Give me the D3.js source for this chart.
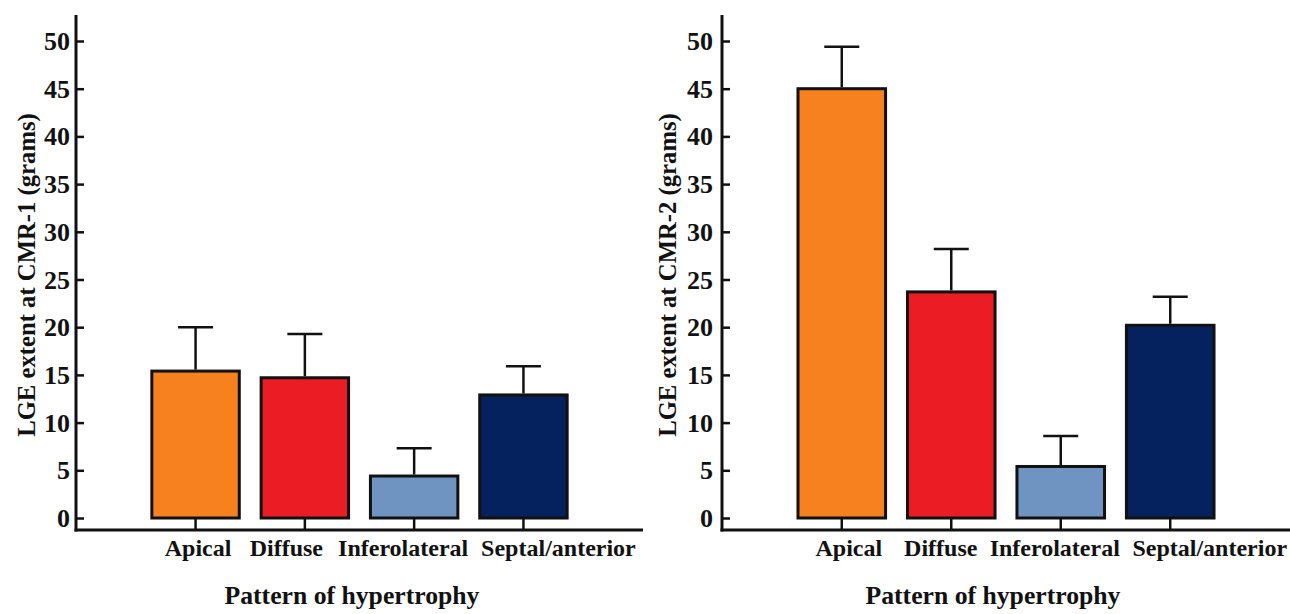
<!DOCTYPE html>
<html>
<head>
<meta charset="utf-8">
<script src="https://cdn.jsdelivr.net/npm/d3@7"></script>
<style>
  html, body { margin: 0; padding: 0; background: #fff; }
  svg { display: block; }
</style>
</head>
<body>
<svg id="chart" width="1290" height="614"></svg>
<script>
// ---- data ----
const categories = ["Apical", "Diffuse", "Inferolateral", "Septal/anterior"];
const colors = ["#F7811F", "#EB1C24", "#7094C2", "#05225E"];
const cmr1Means = [15.4, 14.7, 4.4, 12.9];
const cmr1Upper = [20.0, 19.3, 7.3, 15.9];
const cmr2Means = [45.0, 23.7, 5.4, 20.2];
const cmr2Upper = [49.4, 28.2, 8.6, 23.2];
const yTicks = [0, 5, 10, 15, 20, 25, 30, 35, 40, 45, 50];
const yTitles = ["LGE extent at CMR-1 (grams)", "LGE extent at CMR-2 (grams)"];
const xTitle = "Pattern of hypertrophy";

// ---- layout / style ----
const FONT = "'Liberation Serif'";
const svg = d3.select("#chart");
svg.append("rect").attr("width", 1290).attr("height", 614).attr("fill", "#fff");

function styleText(sel, size) {
  sel.attr("fill", "#111")
    .style("font-family", FONT).style("font-weight", "bold").style("font-size", size + "px");
}

const panels = [
  { axisX: 76, endX: 643, means: cmr1Means, upper: cmr1Upper, yTitle: yTitles[0],
    labelShift: [2.5, -18.5, -11, 35], yTitleOff: 41, xTitleOff: 276, tickPad: 6 },
  { axisX: 722, endX: 1290, means: cmr2Means, upper: cmr2Upper, yTitle: yTitles[1],
    labelShift: [7, -10.5, -6, 39.5], yTitleOff: 46, xTitleOff: 271, tickPad: 9 }
];

const y = d3.scaleLinear().domain([0, 50]).range([518, 41]);
const xAxisY = 530;
const axisTop = 15;

panels.forEach(p => {
  const g = svg.append("g");
  const x = d3.scaleBand().domain(categories).range([p.axisX, p.endX])
    .paddingInner(0.2).paddingOuter(0.694);

  // y axis ticks + labels
  const yAxis = d3.axisLeft(y).tickValues(yTicks).tickSizeInner(-8).tickSizeOuter(0).tickPadding(p.tickPad);
  const ya = g.append("g").attr("transform", `translate(${p.axisX},0)`).call(yAxis);
  ya.select(".domain").remove();
  ya.selectAll(".tick line").attr("stroke", "#111").attr("stroke-width", 2.5);
  styleText(ya.selectAll(".tick text"), 26);
  ya.selectAll(".tick text").attr("dy", "0.33em");

  // x axis ticks + labels
  const xAxis = d3.axisBottom(x).tickSizeInner(-12).tickSizeOuter(0).tickPadding(9);
  const xa = g.append("g").attr("transform", `translate(0,${xAxisY})`).call(xAxis);
  xa.select(".domain").remove();
  xa.selectAll(".tick line").attr("stroke", "#111").attr("stroke-width", 2.5);
  const xt = xa.selectAll(".tick text");
  styleText(xt, 24);
  xt.attr("dx", (d, i) => p.labelShift[i]);

  // bars
  g.selectAll("rect.bar").data(categories).enter().append("rect")
    .attr("class", "bar")
    .attr("x", d => x(d))
    .attr("width", x.bandwidth())
    .attr("y", (d, i) => y(p.means[i]))
    .attr("height", (d, i) => y(0) - y(p.means[i]))
    .attr("fill", (d, i) => colors[i])
    .attr("stroke", "#111").attr("stroke-width", 3);

  // error bars (upper only)
  const cap = 35;
  categories.forEach((c, i) => {
    const cx = x(c) + x.bandwidth() / 2;
    g.append("line").attr("x1", cx).attr("x2", cx)
      .attr("y1", y(p.means[i]) - 1.5).attr("y2", y(p.upper[i]))
      .attr("stroke", "#111").attr("stroke-width", 2.5);
    g.append("line").attr("x1", cx - cap / 2).attr("x2", cx + cap / 2)
      .attr("y1", y(p.upper[i])).attr("y2", y(p.upper[i]))
      .attr("stroke", "#111").attr("stroke-width", 2.5);
  });

  // axis lines
  g.append("line").attr("x1", p.axisX).attr("x2", p.axisX).attr("y1", axisTop).attr("y2", xAxisY + 1.5)
    .attr("stroke", "#111").attr("stroke-width", 3);
  g.append("line").attr("x1", p.axisX - 1.5).attr("x2", p.endX).attr("y1", xAxisY).attr("y2", xAxisY)
    .attr("stroke", "#111").attr("stroke-width", 3);

  // titles
  const yt = g.append("text").attr("transform", `translate(${p.axisX - p.yTitleOff},${275}) rotate(-90)`)
    .attr("text-anchor", "middle").text(p.yTitle);
  styleText(yt, 24.7);
  const xtt = g.append("text").attr("x", p.axisX + p.xTitleOff).attr("y", 604)
    .attr("text-anchor", "middle").text(xTitle);
  styleText(xtt, 25.7);
});
</script>
</body>
</html>
